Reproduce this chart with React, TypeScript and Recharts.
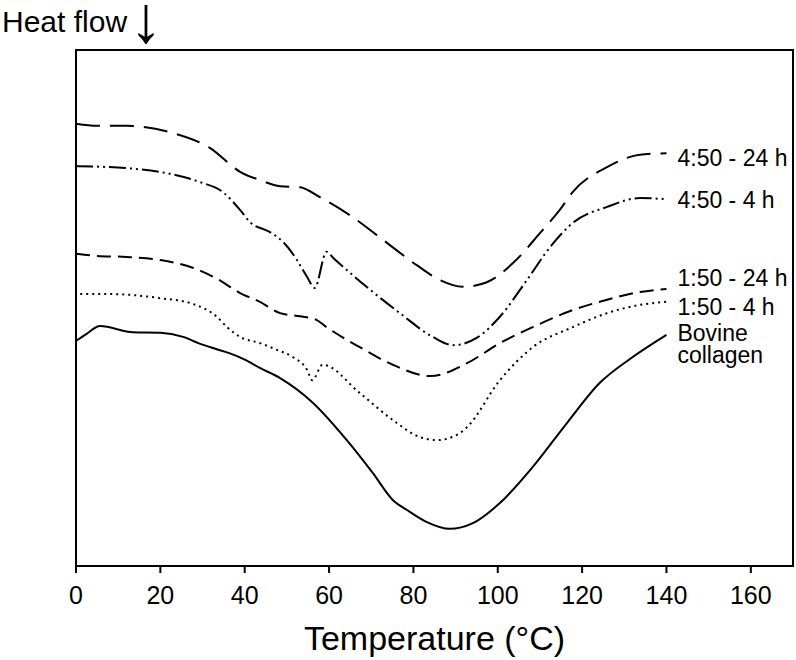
import React from 'react';
import { LineChart, Line, XAxis, YAxis, LabelList, Label, ReferenceArea } from 'recharts';

const FONT = '"Liberation Sans", Arial, sans-serif';

// temperature (°C) and heat flow (a.u., endotherm down) for each sample
const temp450_24 = [0, 5, 12, 23, 31.8, 38.9, 43.6, 48.4, 53.1, 57.8, 64.9, 72.8, 80.8, 86.3, 91.7, 97.4, 103.6, 110, 114.7, 117.8, 125.9, 133.7, 140];
const heat450_24 = [85.7, 85.3, 85.3, 83.9, 81.0, 76.4, 74.8, 73.6, 73.4, 71.5, 68.0, 63.2, 58.3, 55.4, 54.1, 55.0, 58.7, 64.5, 69.0, 72.5, 77.3, 79.7, 80.0];

const temp450_4 = [0, 12, 22.3, 29.4, 34.8, 38.9, 41.2, 46, 49.1, 52.4, 54.8, 56.6, 59.4, 61, 68.9, 76.8, 84.6, 89.4, 95, 100.5, 106.9, 112.4, 117.8, 125.9, 133.7, 140];
const heat450_4 = [77.5, 77.1, 76.0, 74.4, 72.5, 69.0, 66.7, 64.7, 62.8, 59.3, 56.0, 53.9, 60.9, 59.7, 54.1, 49.0, 44.4, 42.8, 44.2, 48.3, 55.4, 61.8, 66.5, 69.6, 71.3, 71.1];

const temp150_24 = [0, 5, 12, 20, 27.7, 34, 38.9, 43.6, 48.4, 53.1, 57, 59.4, 67.3, 75.1, 84, 92.7, 100.5, 108.3, 117.8, 125.9, 133.7, 140];
const heat150_24 = [60.5, 60.1, 59.9, 59.3, 57.8, 55.4, 52.9, 51.2, 49.0, 48.4, 47.7, 46.3, 42.4, 39.0, 36.8, 39.3, 43.2, 46.3, 49.6, 51.6, 53.1, 53.7];

const temp150_4 = [1, 8, 20, 27.7, 33.4, 35.8, 38.9, 43.6, 47.6, 51.4, 54.8, 56, 58.5, 67.3, 75.1, 81.5, 85.6, 90.3, 92.7, 100.5, 108.3, 117.8, 125.9, 133.7, 140];
const heat150_4 = [52.7, 52.7, 51.9, 50.8, 48.3, 46.3, 44.4, 43.2, 41.9, 40.5, 38.0, 36.0, 39.0, 33.5, 28.3, 25.0, 24.4, 25.4, 26.9, 36.0, 42.4, 46.3, 49.0, 50.6, 51.2];

const tempBovine = [0, 2.5, 5.7, 13.5, 20, 25.4, 29, 33, 36.5, 40, 43.6, 48.4, 56.2, 64.2, 70.4, 75.1, 78.4, 83.2, 88.6, 94.1, 100.5, 108.3, 116.4, 124.2, 132, 140];
const heatBovine = [43.6, 45.0, 46.5, 45.3, 45.2, 44.4, 43.2, 42.1, 41.2, 40.0, 38.4, 36.4, 31.6, 24.4, 18.0, 12.8, 10.9, 8.5, 7.2, 8.3, 12.2, 19.2, 27.7, 35.5, 40.5, 44.8];

const seriesNames = ['4:50 - 24 h', '4:50 - 4 h', '1:50 - 24 h', '1:50 - 4 h', 'Bovine\ncollagen'];
const xTicks = [0, 20, 40, 60, 80, 100, 120, 140, 160];

const build = (t: number[], v: number[], name: string) =>
  t.map((x, i) => ({ t: x, v: v[i], label: i === t.length - 1 ? name : undefined }));

const series = [
  { data: build(temp450_24, heat450_24, seriesNames[0]), dash: '24 10', dy: 5 },
  { data: build(temp450_4, heat450_4, seriesNames[1]), dash: '17 4 2 4 2 4', dy: 1 },
  { data: build(temp150_24, heat150_24, seriesNames[2]), dash: '14 7', dy: -11 },
  { data: build(temp150_4, heat150_4, seriesNames[3]), dash: '2 4', dy: 5 },
  { data: build(tempBovine, heatBovine, seriesNames[4]), dash: undefined, dy: -2 },
];

const endLabel = (dy: number) => (props: any) => {
  const { x, y, value } = props;
  if (!value) return null;
  const lines = String(value).split('\n');
  return (
    <text x={Number(x) + 11} y={Number(y) + dy + 8} fontSize={23} fontFamily={FONT} fill="#000">
      {lines.map((l, i) => (
        <tspan key={i} x={Number(x) + 11} dy={i === 0 ? 0 : 22}>
          {l}
        </tspan>
      ))}
    </text>
  );
};

export default function App() {
  const axisLine = { stroke: '#000', strokeWidth: 2 };
  return (
    <div style={{ position: 'absolute', left: 0, top: 0, width: 796, height: 660, background: '#fff' }}>
      <LineChart width={796} height={660} margin={{ top: 50, right: 3, left: 76, bottom: 0 }}>
        <XAxis
          type="number"
          dataKey="t"
          domain={[0, 170]}
          ticks={xTicks}
          allowDataOverflow
          height={94}
          axisLine={axisLine}
          tickLine={{ stroke: '#000', strokeWidth: 2 }}
          tickSize={7}
          tickMargin={13}
          tick={{ fill: '#000', fontSize: 25, fontFamily: FONT }}
        >
          <Label value="Temperature (°C)" position="insideBottom" offset={10} fill="#000" fontSize={34} fontFamily={FONT} />
        </XAxis>
        <YAxis type="number" domain={[0, 100]} width={0} tick={false} tickLine={false} axisLine={axisLine} />
        <ReferenceArea x1={0} x2={170} y1={0} y2={100} fill="none" fillOpacity={0} stroke="#000" strokeWidth={2} />
        {series.map((s, i) => (
          <Line
            key={i}
            data={s.data}
            dataKey="v"
            type="monotone"
            stroke="#000"
            strokeWidth={2}
            strokeDasharray={s.dash}
            dot={false}
            activeDot={false}
            isAnimationActive={false}
          >
            <LabelList dataKey="label" content={endLabel(s.dy)} />
          </Line>
        ))}
      </LineChart>
      <svg width={300} height={50} style={{ position: 'absolute', left: 0, top: 0 }}>
        <text x={2} y={32} fontSize={30} fontFamily={FONT} fill="#000">Heat flow</text>
        <text x={146} y={42} fontSize={66} fontFamily={FONT} fill="#000" textAnchor="middle">↓</text>
      </svg>
    </div>
  );
}
